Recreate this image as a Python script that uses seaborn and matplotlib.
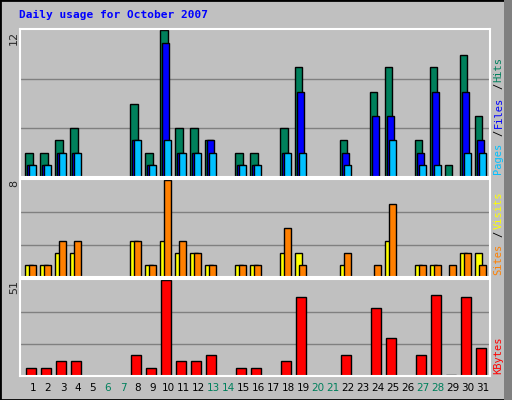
import numpy as np
import pandas as pd
import seaborn as sns
import matplotlib.pyplot as plt
from matplotlib.patches import Rectangle

days = np.arange(1, 32)
hits = [2, 2, 3, 4, 0, 0, 0, 6, 2, 12, 4, 4, 3, 0, 2, 2, 0, 4, 9, 0, 0, 3, 0, 7, 9, 0, 3, 9, 1, 10, 5]
files = [1, 1, 2, 2, 0, 0, 0, 3, 1, 11, 2, 2, 3, 0, 1, 1, 0, 2, 7, 0, 0, 2, 0, 5, 5, 0, 2, 7, 0, 7, 3]
pages = [1, 1, 2, 2, 0, 0, 0, 3, 1, 3, 2, 2, 2, 0, 1, 1, 0, 2, 2, 0, 0, 1, 0, 0, 3, 0, 1, 1, 0, 2, 2]
sites = [1, 1, 2, 2, 0, 0, 0, 3, 1, 3, 2, 2, 1, 0, 1, 1, 0, 2, 2, 0, 0, 1, 0, 0, 3, 0, 1, 1, 0, 2, 2]
visits = [1, 1, 3, 3, 0, 0, 0, 3, 1, 8, 3, 2, 1, 0, 1, 1, 0, 4, 1, 0, 0, 2, 0, 1, 6, 0, 1, 1, 1, 2, 1]
kbytes = [4, 4, 8, 8, 0, 0, 0, 11, 4, 51, 8, 8, 11, 0, 4, 4, 0, 8, 42, 0, 0, 11, 0, 36, 20, 0, 11, 43, 0.5, 42, 15]
weekends = [6, 7, 13, 14, 20, 21, 27, 28]

sns.set_style('white')
plt.rcParams['font.family'] = ['DejaVu Sans']
BG = '#C0C0C0'

fig = plt.figure(figsize=(5.12, 4.0), dpi=100, facecolor=BG)
fig.patches.append(Rectangle((0, 0), 1, 1, transform=fig.transFigure, fill=False,
                             edgecolor='black', linewidth=2))
fig.patches.append(Rectangle((0.985, 0.0), 0.015, 1, transform=fig.transFigure,
                             facecolor='#808080', edgecolor='none'))
fig.text(0.037, 0.963, 'Daily usage for October 2007', color='#0000FF', fontsize=8,
         fontweight='bold', family='DejaVu Sans Mono', va='center')

xlim = (0.133, 31.47)
left, width = 0.039, 0.918


def panel(bottom, height, series, ymax, label):
    ax = fig.add_axes([left, bottom, width, height], facecolor=BG)
    for vals, off, w, col in series:
        df = pd.DataFrame({'x': days + off, 'y': vals})
        df = df[df.y > 0]
        sns.barplot(data=df, x='x', y='y', native_scale=True, width=w, color=col,
                    saturation=1, edgecolor='black', linewidth=1, ax=ax)
    for f in (1 / 3, 2 / 3):
        ax.axhline(ymax * f, color='#808080', linewidth=1, zorder=0.5)
    ax.set_xlim(*xlim)
    ax.set_ylim(0, ymax * 1.01)
    ax.set_xticks([])
    ax.set_yticks([])
    ax.set_xlabel('')
    ax.set_ylabel('')
    for s in ax.spines.values():
        s.set_color('white')
        s.set_linewidth(1.5)
    ax.text(-0.013, 0.99, label, transform=ax.transAxes, rotation=90, fontsize=8,
            va='top', ha='center')
    return ax


ax1 = panel(0.5575, 0.37, [(hits, -0.28, 0.5, '#00805C'), (files, -0.15, 0.5, '#0000FF'),
                          (pages, -0.02, 0.5, '#00C0FF')], 12, '12')
ax2 = panel(0.3075, 0.245, [(sites, -0.28, 0.5, '#FFFF00'), (visits, -0.02, 0.5, '#FF8000')], 8, '8')
ax3 = panel(0.06, 0.2425, [(kbytes, -0.13, 0.67, '#FF0000')], 51, '51')


def side_label(ax, parts):
    y = 0.02
    for txt, col in parts:
        ax.text(1.018, y, txt, transform=ax.transAxes, rotation=90, fontsize=7.5,
                family='DejaVu Sans Mono', color=col, va='bottom', ha='center')
        y += len(txt) * 0.052 * (0.37 / ax.get_position().height)


side_label(ax1, [('Pages', '#00C0FF'), ('/', 'black'), ('Files', '#0000FF'),
                 ('/', 'black'), ('Hits', '#00805C')])
side_label(ax2, [('Sites', '#FF8000'), ('/', 'black'), ('Visits', '#FFFF00')])
side_label(ax3, [('KBytes', '#FF0000')])

for d in days:
    xf = left + width * (d - xlim[0]) / (xlim[1] - xlim[0])
    fig.text(xf, 0.03, str(d), ha='center', va='center', fontsize=7.5,
             color='#00805C' if d in weekends else 'black')

fig.savefig('out.png', dpi=100, facecolor=BG)
